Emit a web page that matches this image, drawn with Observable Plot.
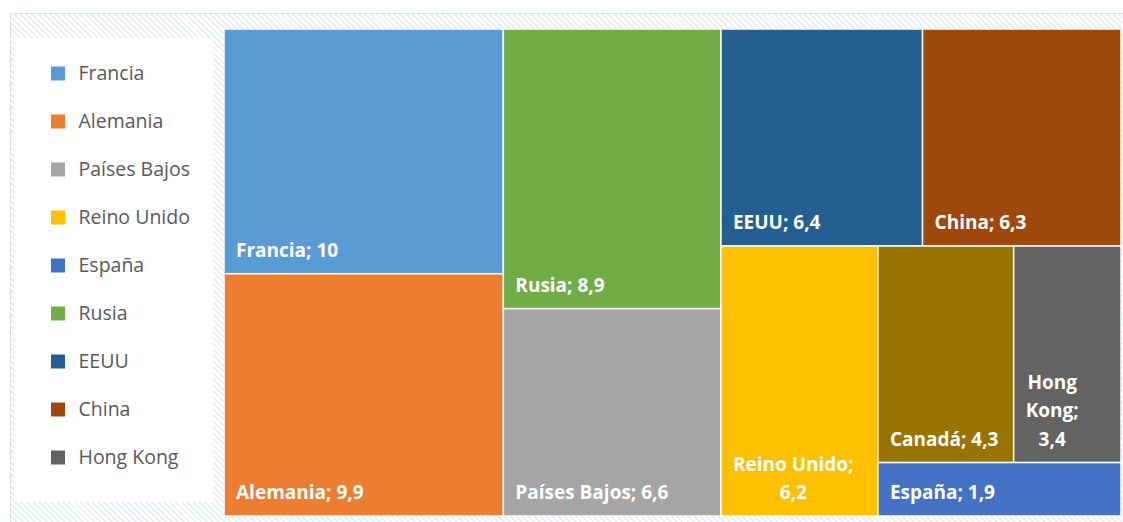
<!DOCTYPE html>
<html><head><meta charset="utf-8">
<script src="https://cdn.jsdelivr.net/npm/d3@7"></script>
<script src="https://cdn.jsdelivr.net/npm/@observablehq/plot@0.6"></script>
<style>
html,body{margin:0;padding:0;background:#fff;width:1123px;height:522px;overflow:hidden;font-family:'Open Sans',sans-serif}
#frame{position:absolute;left:10px;top:13px;width:1130px;height:530px;border:1px solid #dde2e8;
  background:repeating-linear-gradient(45deg,#ffffff 0px,#ffffff 2.2px,#edeff2 2.2px,#edeff2 4.2px)}
#legendbox{position:absolute;left:15px;top:38px;width:198px;height:464px;background:#fff}
#legend{position:absolute;left:15px;top:38px}
#tree{position:absolute;left:224px;top:29px}
</style></head><body>
<div id="frame"></div><div id="legendbox"></div><div id="legend"></div><div id="tree"></div>
<script>
// Data
const paises  = ["Francia","Alemania","Rusia","Países Bajos","EEUU","China","Reino Unido","Canadá","Hong Kong","España"];
const valores = [10, 9.9, 8.9, 6.6, 6.4, 6.3, 6.2, 4.3, 3.4, 1.9];
const colores = ["#5B9BD5","#ED7D31","#70AD47","#A5A5A5","#255E91","#9E480E","#FFC000","#997300","#636363","#4472C4"];
const leyenda = ["Francia","Alemania","Países Bajos","Reino Unido","España","Rusia","EEUU","China","Hong Kong"];

const W = 897, H = 487;
const LABEL_FS = 19, LEGEND_FS = 19.5;

const root = d3.hierarchy({children: paises.map((p, i) => ({name: p, value: valores[i]}))})
  .sum(d => d.value)
  .sort((a, b) => b.value - a.value);
d3.treemap().size([W, H]).tile(d3.treemapSquarify.ratio(1.05))(root);

const ctx = document.createElement("canvas").getContext("2d");
ctx.font = `bold ${LABEL_FS}px 'Open Sans'`;
function wrap(text, maxW) {
  const words = text.split(" ");
  const lines = [];
  let cur = "";
  for (const w of words) {
    const t = cur ? cur + " " + w : w;
    if (!cur || ctx.measureText(t).width <= maxW) cur = t;
    else { lines.push(cur); cur = w; }
  }
  lines.push(cur);
  return lines;
}
const fmt = v => String(v).replace(".", ",");
const tiles = root.leaves().map(l => {
  const label = `${l.data.name}; ${fmt(l.data.value)}`;
  const lines = wrap(label, (l.x1 - l.x0) - 24);
  const bw = d3.max(lines, s => ctx.measureText(s).width);
  return {name: l.data.name, x0: l.x0, x1: l.x1, y0: l.y0, y1: l.y1,
          text: lines.join("\n"), lx: l.x0 + 11.5 + bw / 2, ly: l.y1 - 17.5};
});

const color = {domain: paises, range: colores};

const tree = Plot.plot({
  width: W, height: H, margin: 0,
  style: {background: "transparent", fontFamily: "'Open Sans', sans-serif"},
  x: {domain: [0, W], axis: null},
  y: {domain: [0, H], range: [0, H], axis: null},
  color,
  marks: [
    Plot.rect(tiles, {x1: "x0", x2: "x1", y1: "y0", y2: "y1", fill: "name", stroke: "white", strokeWidth: 1.5}),
    Plot.text(tiles, {x: "lx", y: "ly", text: "text", textAnchor: "middle", lineAnchor: "bottom",
      lineHeight: 1.5, fill: "white", fontWeight: "bold", fontSize: LABEL_FS})
  ]
});
document.getElementById("tree").append(tree);

const legend = Plot.plot({
  width: 198, height: 464, margin: 0,
  style: {background: "transparent", fontFamily: "'Open Sans', sans-serif"},
  y: {type: "point", domain: leyenda, range: [35, 419], padding: 0, axis: null},
  color,
  marks: [
    Plot.dot(leyenda, {y: d => d, fill: d => d, symbol: "square", r: 7.9, frameAnchor: "left", dx: 42.5}),
    Plot.text(leyenda, {y: d => d, text: d => d, frameAnchor: "left", dx: 63, textAnchor: "start",
      fill: "#595959", fontSize: LEGEND_FS})
  ]
});
document.getElementById("legend").append(legend);
</script>
</body></html>
